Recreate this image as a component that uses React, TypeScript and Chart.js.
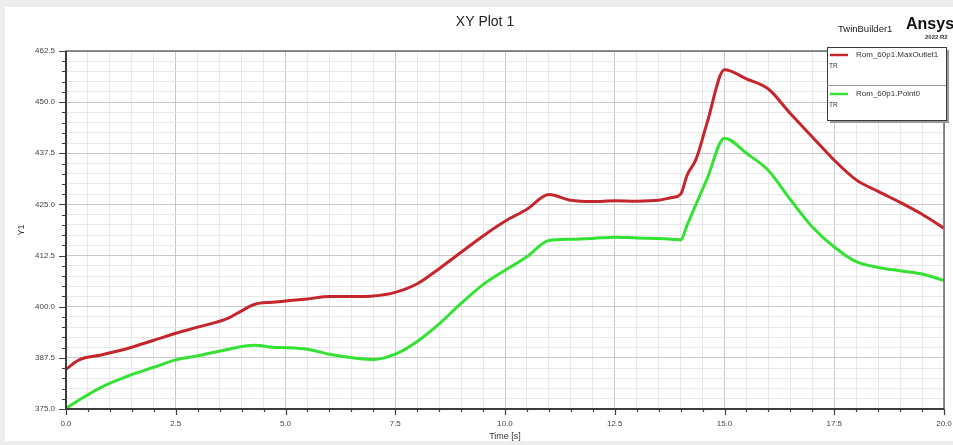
import React, { useEffect, useRef } from "react";
import { Chart, registerables } from "chart.js";

Chart.register(...registerables);

const timeSeconds = [
  0, 0.3, 0.8, 1.4, 2.0, 2.5, 3.0, 3.7, 4.0, 4.3, 4.7, 5.0, 5.5, 6.0, 6.7, 7.0, 7.5, 8.0, 8.5, 9.0,
  9.5, 10.0, 10.5, 11.0, 11.5, 12.0, 12.5, 13.0, 13.5, 13.8, 14.0, 14.15, 14.35, 14.6, 15.0, 15.5,
  16.0, 16.5, 17.0, 17.5, 18.0, 18.5, 19.0, 19.5, 20.0,
];

const maxOutletValues = [
  384.7, 387.0, 388.2, 389.8, 391.8, 393.5, 395.0, 397.2, 399.0, 400.6, 401.1, 401.4, 401.9, 402.5,
  402.5, 402.6, 403.5, 405.6, 409.3, 413.3, 417.3, 420.9, 423.8, 427.4, 426.0, 425.7, 425.9, 425.8,
  426.0, 426.7, 427.5, 432.2, 436.0, 444.8, 457.9, 455.7, 453.2, 447.2, 441.5, 435.8, 431.0, 428.2,
  425.5, 422.6, 419.2,
];

const point0Values = [
  375.2, 377.2, 380.3, 383.0, 385.2, 387.0, 388.0, 389.6, 390.3, 390.6, 390.1, 390.0, 389.6, 388.4,
  387.3, 387.1, 388.4, 391.5, 395.8, 400.8, 405.4, 408.9, 412.2, 416.2, 416.5, 416.7, 417.0, 416.8,
  416.7, 416.5, 416.3, 420.0, 425.0, 431.2, 441.2, 437.5, 433.3, 426.2, 419.5, 414.6, 411.0, 409.6,
  408.8, 408.0, 406.4,
];

const seriesNames = ["Rom_60p1.MaxOutlet1", "Rom_60p1.Point0"];
const seriesUnits = ["TR", "TR"];
const xMin = 0, xMax = 20, xMinorStep = 0.5, xMajorStep = 2.5;
const yMin = 375, yMax = 462.5, yMinorStep = 2.5, yMajorStep = 12.5;

const FONT = "'Liberation Sans', Arial, sans-serif";
const RED = "#c4262b";
const GREEN = "#34e234";

const isMajor = (v: number, step: number, base: number) => {
  const r = (v - base) / step;
  return Math.abs(r - Math.round(r)) < 1e-6;
};

const decorPlugin = {
  id: "decor",
  beforeDraw(chart: any) {
    const { ctx, width, height } = chart;
    ctx.save();
    ctx.fillStyle = "#ededed";
    ctx.fillRect(0, 0, width, height);
    ctx.fillStyle = "#ffffff";
    ctx.fillRect(5, 7, width - 5, height - 11);
    ctx.restore();
  },
  afterDraw(chart: any) {
    const { ctx, chartArea: a } = chart;
    const xs = chart.scales.x;
    const ys = chart.scales.y;
    ctx.save();
    // frame
    ctx.strokeStyle = "#6a6a6a";
    ctx.lineWidth = 1.5;
    ctx.strokeRect(a.left, a.top, a.right - a.left, a.bottom - a.top);
    ctx.strokeStyle = "#3c3c3c";
    ctx.lineWidth = 2;
    ctx.beginPath();
    ctx.moveTo(a.left, a.top);
    ctx.lineTo(a.left, a.bottom);
    ctx.lineTo(a.right, a.bottom);
    ctx.stroke();
    // ticks
    ctx.lineWidth = 1.2;
    ctx.strokeStyle = "#3c3c3c";
    ctx.beginPath();
    for (let v = xMin; v <= xMax + 1e-9; v += xMinorStep) {
      const px = Math.round(xs.getPixelForValue(v)) + 0.5;
      const len = isMajor(v, xMajorStep, xMin) ? 6 : 3;
      ctx.moveTo(px, a.bottom);
      ctx.lineTo(px, a.bottom + len);
    }
    for (let v = yMin; v <= yMax + 1e-9; v += yMinorStep) {
      const py = Math.round(ys.getPixelForValue(v)) + 0.5;
      const len = isMajor(v, yMajorStep, yMin) ? 7 : 4;
      ctx.moveTo(a.left, py);
      ctx.lineTo(a.left - len, py);
    }
    ctx.stroke();

    // title and texts
    ctx.fillStyle = "#222";
    ctx.textBaseline = "middle";
    ctx.textAlign = "center";
    ctx.font = `14px ${FONT}`;
    ctx.fillText("XY Plot 1", 485, 22);
    ctx.font = `9px ${FONT}`;
    ctx.fillStyle = "#333";
    ctx.fillText("Time [s]", (a.left + a.right) / 2, 437);
    ctx.save();
    ctx.translate(22, (a.top + a.bottom) / 2);
    ctx.rotate(-Math.PI / 2);
    ctx.fillText("Y1", 0, 0);
    ctx.restore();

    ctx.textAlign = "left";
    ctx.fillStyle = "#222";
    ctx.font = `9.5px ${FONT}`;
    ctx.fillText("TwinBuilder1", 838, 29);
    ctx.font = `bold 16px ${FONT}`;
    ctx.fillStyle = "#111";
    ctx.fillText("Ansys", 906, 25);
    ctx.font = `bold 6px ${FONT}`;
    ctx.fillStyle = "#333";
    ctx.fillText("2022 R2", 925, 37);

    // legend
    const bx = 827, by = 47, bw = 119, bh = 73;
    ctx.fillStyle = "#9a9a9a";
    ctx.fillRect(bx + 3, by + 3, bw, bh);
    ctx.fillStyle = "#ffffff";
    ctx.fillRect(bx, by, bw, bh);
    ctx.strokeStyle = "#3a3a3a";
    ctx.lineWidth = 1;
    ctx.strokeRect(bx + 0.5, by + 0.5, bw, bh);
    ctx.strokeStyle = "#9a9a9a";
    ctx.beginPath();
    ctx.moveTo(bx, 85.5);
    ctx.lineTo(bx + bw, 85.5);
    ctx.stroke();
    const rows = [
      { color: RED, y: 55 },
      { color: GREEN, y: 94 },
    ];
    rows.forEach((r, i) => {
      ctx.strokeStyle = r.color;
      ctx.lineWidth = 2.5;
      ctx.beginPath();
      ctx.moveTo(830, r.y);
      ctx.lineTo(848, r.y);
      ctx.stroke();
      ctx.fillStyle = "#333";
      ctx.font = `8px ${FONT}`;
      ctx.fillText(seriesNames[i], 856, r.y);
      ctx.font = `6.5px ${FONT}`;
      ctx.fillText(seriesUnits[i], 829, r.y + 11);
    });
    ctx.restore();
  },
};

export default function App() {
  const ref = useRef<HTMLCanvasElement | null>(null);
  useEffect(() => {
    if (!ref.current) return;
    const chart = new Chart(ref.current, {
      type: "line",
      data: {
        datasets: [
          {
            label: seriesNames[0],
            data: timeSeconds.map((t, i) => ({ x: t, y: maxOutletValues[i] })),
            borderColor: RED,
            borderWidth: 3,
            pointRadius: 0,
            tension: 0.3,
            cubicInterpolationMode: "monotone",
          },
          {
            label: seriesNames[1],
            data: timeSeconds.map((t, i) => ({ x: t, y: point0Values[i] })),
            borderColor: GREEN,
            borderWidth: 3,
            pointRadius: 0,
            tension: 0.3,
            cubicInterpolationMode: "monotone",
          },
        ],
      },
      options: {
        responsive: false,
        animation: false,
        devicePixelRatio: 1,
        layout: { padding: { top: 51, right: 9, left: 0, bottom: 0 } },
        plugins: { legend: { display: false }, title: { display: false }, tooltip: { enabled: false } },
        scales: {
          x: {
            type: "linear",
            min: xMin,
            max: xMax,
            border: { display: false },
            afterFit: (s: any) => {
              s.height = 36;
              s.paddingLeft = 0;
              s.paddingRight = 0;
            },
            grid: {
              drawTicks: false,
              color: (c: any) => (c.tick && isMajor(c.tick.value, xMajorStep, xMin) ? "#c9c9c9" : "#e8e8e8"),
              lineWidth: 1,
            },
            ticks: {
              stepSize: xMinorStep,
              autoSkip: false,
              maxRotation: 0,
              padding: 10,
              color: "#444",
              font: { family: FONT, size: 8 },
              callback: (v: any) => (isMajor(Number(v), xMajorStep, xMin) ? Number(v).toFixed(1) : ""),
            },
          },
          y: {
            type: "linear",
            min: yMin,
            max: yMax,
            border: { display: false },
            afterFit: (s: any) => {
              s.width = 66;
              s.paddingTop = 0;
              s.paddingBottom = 0;
            },
            grid: {
              drawTicks: false,
              color: (c: any) => (c.tick && isMajor(c.tick.value, yMajorStep, yMin) ? "#c9c9c9" : "#e8e8e8"),
              lineWidth: 1,
            },
            ticks: {
              stepSize: yMinorStep,
              autoSkip: false,
              padding: 11,
              color: "#444",
              font: { family: FONT, size: 8 },
              callback: (v: any) => (isMajor(Number(v), yMajorStep, yMin) ? Number(v).toFixed(1) : ""),
            },
          },
        },
      },
      plugins: [decorPlugin],
    } as any);
    return () => chart.destroy();
  }, []);
  return (
    <div style={{ position: "fixed", left: 0, top: 0, width: 953, height: 445 }}>
      <canvas ref={ref} width={953} height={445} style={{ width: 953, height: 445, display: "block" }} />
    </div>
  );
}
